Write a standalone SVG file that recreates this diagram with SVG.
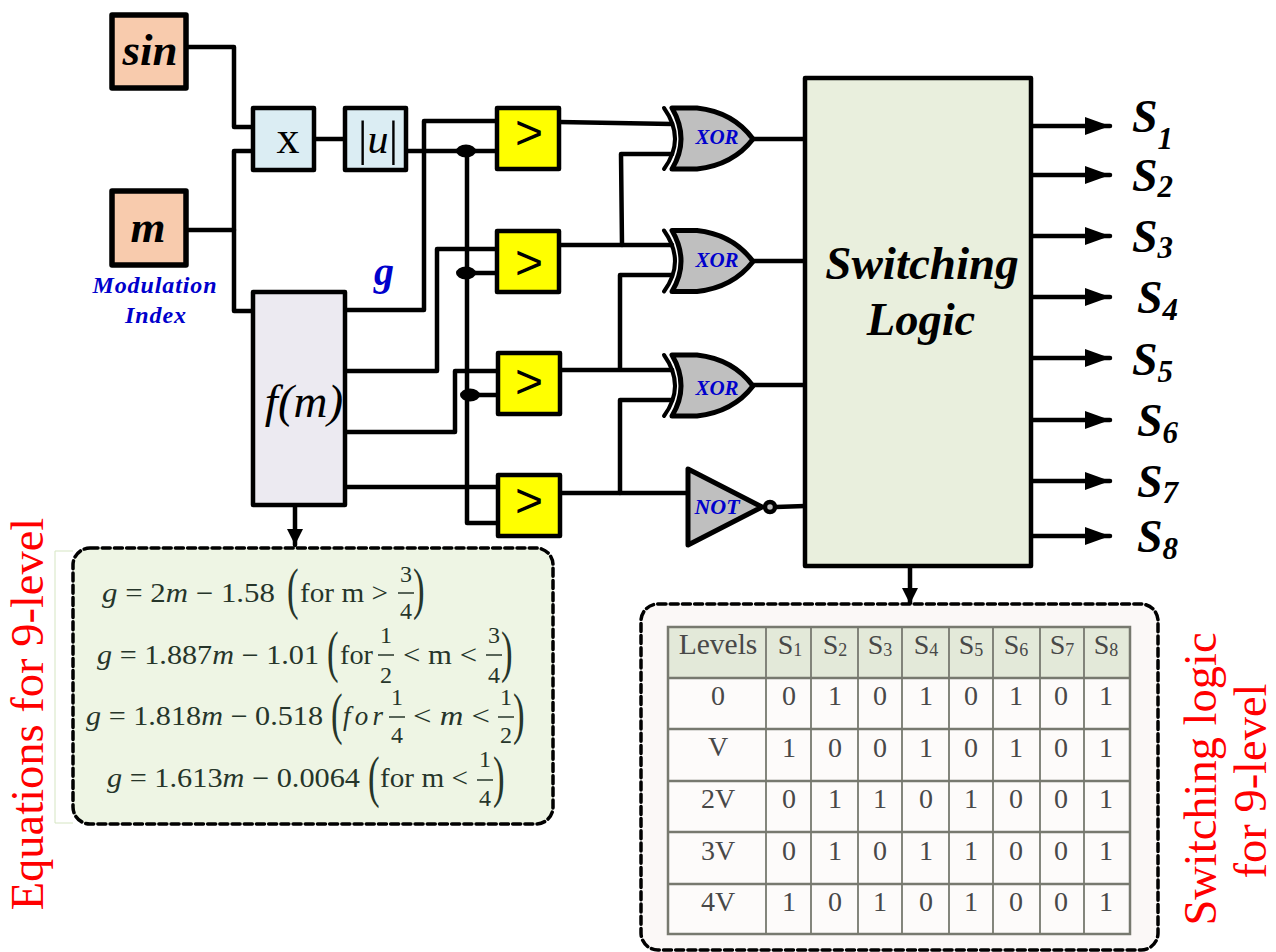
<svg xmlns="http://www.w3.org/2000/svg" xmlns:xlink="http://www.w3.org/1999/xlink" width="1276" height="952" viewBox="0 0 1276 952">
<style>
text{font-family:"Liberation Serif","Times New Roman",serif}
.w{fill:none;stroke:#000;stroke-width:4.5;stroke-linejoin:round;stroke-linecap:round}
.box{stroke:#000;stroke-width:4.5;stroke-linejoin:round}
.src{fill:#F8CBAD;stroke-width:5.5}
.blue{fill:#DBEDF3}
.cmp{fill:#FFFF00}
.gate{fill:#BFBFBF;stroke:#000;stroke-width:5;stroke-linejoin:round}
.bi{font-weight:bold;font-style:italic}
.lbl{font-weight:bold;font-style:italic;fill:#0000CC}
.gt{font-family:"Liberation Sans",Arial,sans-serif;font-size:48px;text-anchor:middle}
.s{font-weight:bold;font-style:italic;font-size:46px}
.sub{font-size:31px}
.red{fill:#FF0000;font-size:46.5px;text-anchor:middle}
.dash{stroke:#000;stroke-width:3.5;stroke-dasharray:8 4.2;stroke-linecap:round}
.eq{font-size:27px;fill:#26352a}
.fr{font-size:24px;fill:#26352a;text-anchor:middle}
.par{font-size:58px;fill:#26352a;font-weight:normal}
.bar{stroke:#26352a;stroke-width:1.5}
.tg{stroke:#77796f;stroke-width:2.5;fill:none}
.t{fill:#484848;font-size:28px;text-anchor:middle}
.tsub{font-size:18px}
</style>
<defs>
<marker id="ah" markerUnits="userSpaceOnUse" markerWidth="26" markerHeight="18" refX="25" refY="9" orient="auto"><polygon points="0,0 25,9 0,18" fill="#000"/></marker>
<marker id="ad" markerUnits="userSpaceOnUse" markerWidth="18" markerHeight="18" refX="16" refY="8" orient="auto"><polygon points="0,0 16,8 0,16" fill="#000"/></marker>
<g id="xorg">
<path class="gate" d="M672 108H697Q733 112 753 139Q733 165 697 169H672Q690 139 672 108Z"/>
<path d="M664 108Q686 139 664 169" fill="none" stroke="#000" stroke-width="4" stroke-linecap="round"/>
</g>
</defs>
<rect width="1276" height="952" fill="#fff"/>

<g id="connectors">
<path class="w" d="M186 47H234V127H253"/>
<path class="w" d="M188 230H234" stroke-width="5"/>
<path class="w" d="M253 151H234V311H253"/>
<path class="w" d="M314 139H345"/>
<path class="w" d="M406 151H497"/>
<path class="w" d="M467 151V523H497"/>
<path class="w" d="M467 273H497"/>
<path class="w" d="M470 395H497"/>
<path class="w" d="M345 310H424V121H497"/>
<path class="w" d="M345 371H437V249H497"/>
<path class="w" d="M345 432H455V371H497"/>
<path class="w" d="M345 487H497"/>
<path class="w" d="M559 122L672 124"/>
<path class="w" d="M559 245H672"/>
<path class="w" d="M622 245L621 154H672"/>
<path class="w" d="M672 275H620V369"/>
<path class="w" d="M560 370H672"/>
<path class="w" d="M672 400H620V493"/>
<path class="w" d="M560 493H688"/>
<path class="w" d="M753 139H805"/>
<path class="w" d="M753 261H805"/>
<path class="w" d="M753 385H805"/>
<path class="w" d="M776 507L805 506"/>
<ellipse cx="466" cy="151" rx="10" ry="6.5"/>
<ellipse cx="466" cy="273" rx="10" ry="6.5"/>
<ellipse cx="470" cy="395" rx="10" ry="6.5"/>
<path class="w" d="M1031 126H1110" marker-end="url(#ah)" stroke-linecap="butt"/>
<path class="w" d="M1031 175H1110" marker-end="url(#ah)" stroke-linecap="butt"/>
<path class="w" d="M1031 236H1110" marker-end="url(#ah)" stroke-linecap="butt"/>
<path class="w" d="M1031 297H1110" marker-end="url(#ah)" stroke-linecap="butt"/>
<path class="w" d="M1031 358H1110" marker-end="url(#ah)" stroke-linecap="butt"/>
<path class="w" d="M1031 420H1110" marker-end="url(#ah)" stroke-linecap="butt"/>
<path class="w" d="M1031 481H1110" marker-end="url(#ah)" stroke-linecap="butt"/>
<path class="w" d="M1031 536H1110" marker-end="url(#ah)" stroke-linecap="butt"/>
<path class="w" d="M295 505V545" marker-end="url(#ad)" stroke-linecap="butt"/>
<path class="w" d="M910 566V604" marker-end="url(#ad)" stroke-linecap="butt"/>
</g>

<g id="sin"><rect class="box src" x="112" y="15" width="74" height="73"/><text class="bi" x="150" y="65" font-size="45" text-anchor="middle">sin</text></g>
<g id="m"><rect class="box src" x="112" y="191" width="74" height="74"/><text class="bi" x="148" y="242" font-size="45" text-anchor="middle">m</text>
<text class="lbl" x="155" y="293" font-size="24" letter-spacing=".9" text-anchor="middle">Modulation</text>
<text class="lbl" x="156" y="323" font-size="24" letter-spacing=".9" text-anchor="middle">Index</text></g>
<g id="mult"><rect class="box blue" x="253" y="108" width="61" height="62"/><text x="288" y="153" font-size="46" text-anchor="middle">x</text></g>
<g id="abs"><rect class="box blue" x="345" y="108" width="61" height="62"/><text x="378" y="155" font-size="49" text-anchor="middle">|<tspan font-style="italic" font-size="42" dy="-2">u</tspan><tspan dy="2">|</tspan></text></g>
<g id="fm"><rect class="box" fill="#ECEAF1" x="253" y="292" width="92" height="213"/><text x="304" y="417" font-size="47" font-style="italic" text-anchor="middle">f(m)</text></g>
<g id="g-label"><text class="lbl" x="384" y="285" font-size="40" text-anchor="middle">g</text></g>

<g id="cmp1"><rect class="box cmp" x="497" y="108" width="62" height="61"/><text class="gt" x="529" y="149">&gt;</text></g>
<g id="cmp2"><rect class="box cmp" x="497" y="231" width="62" height="61"/><text class="gt" x="529" y="279">&gt;</text></g>
<g id="cmp3"><rect class="box cmp" x="498" y="353" width="62" height="61"/><text class="gt" x="529" y="398">&gt;</text></g>
<g id="cmp4"><rect class="box cmp" x="498" y="475" width="62" height="61"/><text class="gt" x="529" y="517">&gt;</text></g>

<g id="xor1"><use href="#xorg" xlink:href="#xorg"/><text class="lbl" x="717" y="144" font-size="21" text-anchor="middle">XOR</text></g>
<g id="xor2"><use href="#xorg" xlink:href="#xorg" y="122.5"/><text class="lbl" x="717" y="267" font-size="21" text-anchor="middle">XOR</text></g>
<g id="xor3"><use href="#xorg" xlink:href="#xorg" y="247"/><text class="lbl" x="717" y="395" font-size="21" text-anchor="middle">XOR</text></g>
<g id="not"><polygon class="gate" points="688,469 688,545 762,507"/><circle cx="770" cy="507" r="5" fill="#BFBFBF" stroke="#000" stroke-width="4.5"/><text class="lbl" x="717" y="514" font-size="22" text-anchor="middle">NOT</text></g>

<g id="switching"><rect class="box" fill="#E9EFDD" x="805" y="78" width="226" height="488"/>
<text class="bi" x="922" y="279" font-size="47" text-anchor="middle">Switching</text>
<text class="bi" x="921" y="335" font-size="46.5" text-anchor="middle">Logic</text></g>

<g id="outputs">
<text class="s" x="1132" y="132">S<tspan class="sub" dy="17">1</tspan></text>
<text class="s" x="1132" y="191">S<tspan class="sub" dy="6">2</tspan></text>
<text class="s" x="1132" y="252">S<tspan class="sub" dy="6">3</tspan></text>
<text class="s" x="1137" y="313">S<tspan class="sub" dy="7">4</tspan></text>
<text class="s" x="1132" y="375">S<tspan class="sub" dy="7">5</tspan></text>
<text class="s" x="1137" y="436">S<tspan class="sub" dy="7">6</tspan></text>
<text class="s" x="1137" y="497">S<tspan class="sub" dy="6">7</tspan></text>
<text class="s" x="1137" y="552">S<tspan class="sub" dy="7">8</tspan></text>
</g>

<g id="equations">
<path d="M73 551H55V823H73" fill="none" stroke="#D5E5C2" stroke-width="1"/>
<rect class="dash" fill="#EEF5E4" x="73" y="548" width="480" height="276" rx="17"/>
<text class="eq" x="102" y="602" textLength="173" lengthAdjust="spacingAndGlyphs"><tspan font-style="italic">g</tspan> = 2<tspan font-style="italic">m</tspan> − 1.58</text>
<text class="par" transform="translate(287 608) scale(.6 1)">(</text>
<text class="eq" x="300" y="602" textLength="88" lengthAdjust="spacingAndGlyphs">for m &gt;</text>
<text class="fr" x="406" y="582">3</text><line class="bar" x1="398" x2="414" y1="593" y2="593"/><text class="fr" x="406" y="619">4</text>
<text class="par" transform="translate(413 608) scale(.6 1)">)</text>

<text class="eq" x="97" y="664" textLength="222" lengthAdjust="spacingAndGlyphs"><tspan font-style="italic">g</tspan> = 1.887<tspan font-style="italic">m</tspan> − 1.01</text>
<text class="par" transform="translate(327 671) scale(.6 1)">(</text>
<text class="eq" x="340" y="664" textLength="33" lengthAdjust="spacingAndGlyphs">for</text>
<text class="fr" x="386" y="643">1</text><line class="bar" x1="378" x2="394" y1="655" y2="655"/><text class="fr" x="386" y="683">2</text>
<text class="eq" x="403" y="664" textLength="74" lengthAdjust="spacingAndGlyphs">&lt; m &lt;</text>
<text class="fr" x="494" y="643">3</text><line class="bar" x1="486" x2="502" y1="655" y2="655"/><text class="fr" x="494" y="683">4</text>
<text class="par" transform="translate(501 671) scale(.6 1)">)</text>

<text class="eq" x="86" y="725" textLength="237" lengthAdjust="spacingAndGlyphs"><tspan font-style="italic">g</tspan> = 1.818<tspan font-style="italic">m</tspan> − 0.518</text>
<text class="par" transform="translate(331 733) scale(.6 1)">(</text>
<text class="eq" x="343" y="725" textLength="40" lengthAdjust="spacing" font-style="italic">for</text>
<text class="fr" x="397" y="705">1</text><line class="bar" x1="389" x2="405" y1="717" y2="717"/><text class="fr" x="397" y="743">4</text>
<text class="eq" x="413" y="725" textLength="77" lengthAdjust="spacingAndGlyphs">&lt; <tspan font-style="italic">m</tspan> &lt;</text>
<text class="fr" x="506" y="705">1</text><line class="bar" x1="498" x2="514" y1="717" y2="717"/><text class="fr" x="506" y="743">2</text>
<text class="par" transform="translate(513 733) scale(.6 1)">)</text>

<text class="eq" x="107" y="787" textLength="253" lengthAdjust="spacingAndGlyphs"><tspan font-style="italic">g</tspan> = 1.613<tspan font-style="italic">m</tspan> − 0.0064</text>
<text class="par" transform="translate(368 796) scale(.6 1)">(</text>
<text class="eq" x="380" y="787" textLength="88" lengthAdjust="spacingAndGlyphs">for m &lt;</text>
<text class="fr" x="485" y="767">1</text><line class="bar" x1="477" x2="493" y1="780" y2="780"/><text class="fr" x="485" y="806">4</text>
<text class="par" transform="translate(493 796) scale(.6 1)">)</text>
</g>

<g id="table">
<rect class="dash" fill="#FBF8F7" x="641" y="604" width="517" height="346" rx="17"/>
<rect x="668" y="627" width="462" height="51" fill="#E3E9D9"/>
<rect x="668" y="678" width="462" height="256" fill="#FDFBFA"/>
<path class="tg" d="M668 627H1130V934H668ZM668 678H1130M668 729H1130M668 781H1130M668 832H1130M668 884H1130"/>
<path class="tg" style="stroke-width:1.8" d="M766 627V934M811 627V934M858 627V934M902 627V934M949 627V934M993 627V934M1040 627V934M1084 627V934"/>
<text class="t" x="718" y="654" style="font-size:29.5px">Levels</text>
<text class="t" x="790" y="654">S<tspan class="tsub" dy="2">1</tspan></text>
<text class="t" x="835" y="654">S<tspan class="tsub" dy="2">2</tspan></text>
<text class="t" x="880" y="654">S<tspan class="tsub" dy="2">3</tspan></text>
<text class="t" x="926" y="654">S<tspan class="tsub" dy="2">4</tspan></text>
<text class="t" x="971" y="654">S<tspan class="tsub" dy="2">5</tspan></text>
<text class="t" x="1016" y="654">S<tspan class="tsub" dy="2">6</tspan></text>
<text class="t" x="1062" y="654">S<tspan class="tsub" dy="2">7</tspan></text>
<text class="t" x="1106" y="654">S<tspan class="tsub" dy="2">8</tspan></text>
<text class="t" x="718" y="705">0</text><text class="t" x="789" y="705">0</text><text class="t" x="835" y="705">1</text><text class="t" x="880" y="705">0</text><text class="t" x="926" y="705">1</text><text class="t" x="971" y="705">0</text><text class="t" x="1016" y="705">1</text><text class="t" x="1061" y="705">0</text><text class="t" x="1106" y="705">1</text>
<text class="t" x="718" y="756">V</text><text class="t" x="789" y="757">1</text><text class="t" x="835" y="757">0</text><text class="t" x="880" y="757">0</text><text class="t" x="926" y="757">1</text><text class="t" x="971" y="757">0</text><text class="t" x="1016" y="757">1</text><text class="t" x="1061" y="757">0</text><text class="t" x="1106" y="757">1</text>
<text class="t" x="718" y="808">2V</text><text class="t" x="789" y="808">0</text><text class="t" x="835" y="808">1</text><text class="t" x="880" y="808">1</text><text class="t" x="926" y="808">0</text><text class="t" x="971" y="808">1</text><text class="t" x="1016" y="808">0</text><text class="t" x="1061" y="808">0</text><text class="t" x="1106" y="808">1</text>
<text class="t" x="718" y="860">3V</text><text class="t" x="789" y="860">0</text><text class="t" x="835" y="860">1</text><text class="t" x="880" y="860">0</text><text class="t" x="926" y="860">1</text><text class="t" x="971" y="860">1</text><text class="t" x="1016" y="860">0</text><text class="t" x="1061" y="860">0</text><text class="t" x="1106" y="860">1</text>
<text class="t" x="718" y="911">4V</text><text class="t" x="789" y="911">1</text><text class="t" x="835" y="911">0</text><text class="t" x="880" y="911">1</text><text class="t" x="926" y="911">0</text><text class="t" x="971" y="911">1</text><text class="t" x="1016" y="911">0</text><text class="t" x="1061" y="911">0</text><text class="t" x="1106" y="911">1</text>
</g>

<g id="captions">
<text class="red" transform="translate(43 714) rotate(-90)">Equations for 9-level</text>
<text class="red" transform="translate(1216 779) rotate(-90)">Switching logic</text>
<text class="red" transform="translate(1266 781) rotate(-90)">for 9-level</text>
</g>
</svg>
